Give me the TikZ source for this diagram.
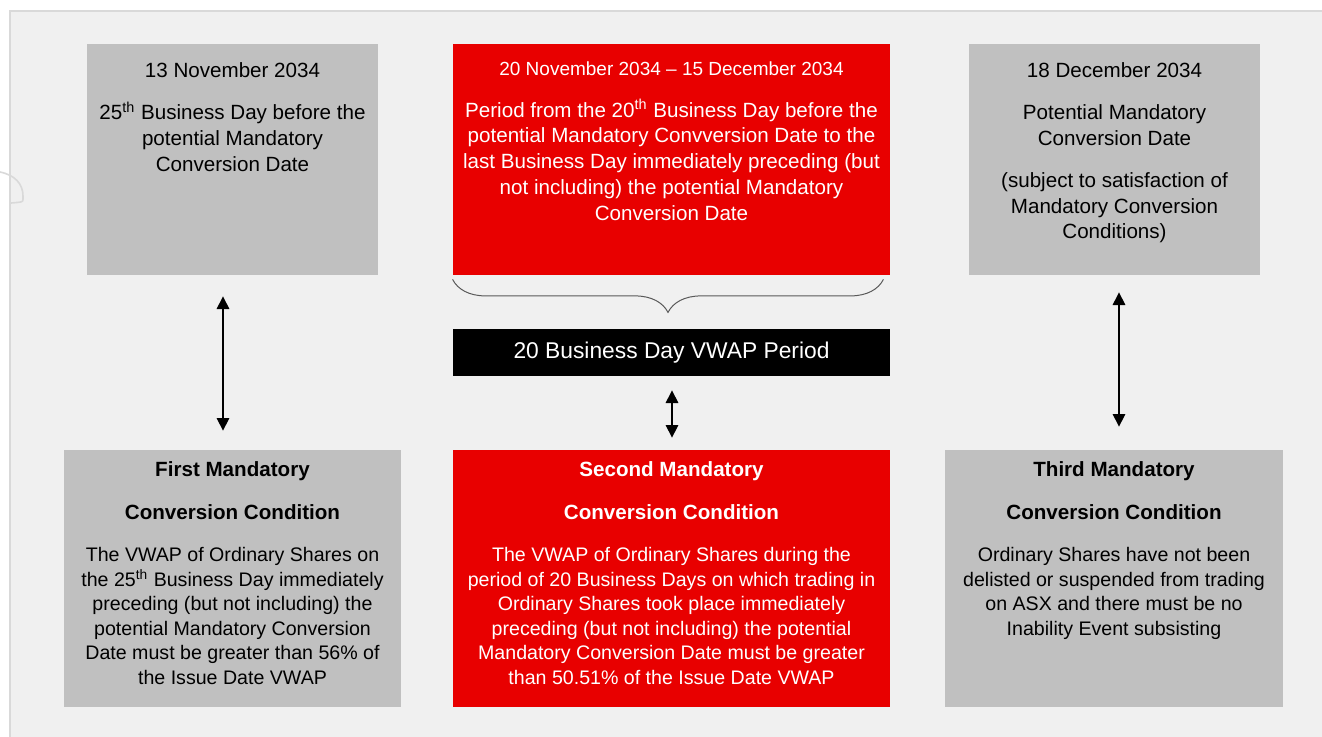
\documentclass[tikz,border=0pt]{standalone}
\usepackage{fontspec}
\setmainfont{Liberation Sans}
\usetikzlibrary{positioning}
\usetikzlibrary{arrows.meta}
\usetikzlibrary{decorations.pathreplacing}

\definecolor{panelgray}{RGB}{240,240,240}
\definecolor{boxgray}{RGB}{192,192,192}
\definecolor{boxred}{RGB}{232,0,0}

\newcommand{\condtitle}[1]{{\fontsize{10.3}{12.25}\selectfont\bfseries #1}}

\tikzset{
    greybox/.style={fill=boxgray, inner sep=0pt},
    redbox/.style={fill=boxred, inner sep=0pt},
    datetext/.style={inner sep=0pt, align=center, font=\fontsize{10.3}{12.9}\selectfont},
    condtext/.style={inner sep=0pt, align=center, font=\fontsize{9.8}{12.25}\selectfont},
    dbl/.style={{Triangle[width=6.3pt,length=6.3pt]}-{Triangle[width=6.3pt,length=6.3pt]}, line width=0.6pt}
}

\begin{document}
\begin{tikzpicture}[x=0.5pt, y=-0.5pt]
        \useasboundingbox (0,0) rectangle (1322,736);
        \fill[white] (0,0) rectangle (1322,736);
        \fill[panelgray] (10,11) rectangle (1330,745);
        \draw[gray!30, line width=1.3pt] (10,745) -- (10,11) -- (1330,11);
        \draw[gray!30, line width=0.8pt] (0,172) .. controls (15,175) and (23,184) .. (23,196) -- (23,199) .. controls (23,202) .. (11,203);

        \node[greybox, minimum width=145.5pt, minimum height=115.5pt] (d1) at (232.5,159.5) {};
        \node[redbox, minimum width=218.5pt, minimum height=115.5pt] (d2) at (671.5,159.5) {};
        \node[greybox, minimum width=145.5pt, minimum height=115.5pt] (d3) at (1114.5,159.5) {};

        \node[datetext, below=9.5pt of d1.north] (d1t) {13 November 2034\\[8pt]
            25\textsuperscript{th} Business Day before the\\
            potential Mandatory\\
            Conversion Date};
        \node[datetext, text=white, below=8.75pt of d2.north] (d2t) {{\fontsize{9.5}{12}\selectfont 20 November 2034 -- 15 December 2034}\\[8pt]
            Period from the 20\textsuperscript{th} Business Day before the\\
            potential Mandatory Convversion Date to the\\
            last Business Day immediately preceding (but\\
            not including) the potential Mandatory\\
            Conversion Date};
        \node[datetext, below=9.5pt of d3.north] (d3t) {18 December 2034\\[8pt]
            Potential Mandatory\\
            Conversion Date\\[8pt]
            (subject to satisfaction of\\
            Mandatory Conversion\\
            Conditions)};

        \draw[decorate, decoration={brace, mirror, amplitude=16.5pt}, gray!70!black, line width=0.5pt]
            ([yshift=-2pt]d2.south west) -- ([xshift=-3.5pt, yshift=-2pt]d2.south east);

        \node[fill=black, inner sep=0pt, minimum width=218.5pt, minimum height=23.5pt, text=white,
            font=\fontsize{11.4}{13}\selectfont] (vw) at (671.5,352.5) {20 Business Day VWAP Period};

        \node[greybox, minimum width=168.5pt, minimum height=128.5pt] (c1) at (232.5,578.5) {};
        \node[redbox, minimum width=218.5pt, minimum height=128.5pt] (c2) at (671.5,578.5) {};
        \node[greybox, minimum width=169pt, minimum height=128.5pt] (c3) at (1114,578.5) {};

        \node[condtext, below=6pt of c1.north] (c1t) {\condtitle{First Mandatory}\\[9pt]
            \condtitle{Conversion Condition}\\[9pt]
            The VWAP of Ordinary Shares on\\
            the 25\textsuperscript{th} Business Day immediately\\
            preceding (but not including) the\\
            potential Mandatory Conversion\\
            Date must be greater than 56\% of\\
            the Issue Date VWAP};
        \node[condtext, text=white, below=6pt of c2.north] (c2t) {\condtitle{Second Mandatory}\\[9pt]
            \condtitle{Conversion Condition}\\[9pt]
            The VWAP of Ordinary Shares during the\\
            period of 20 Business Days on which trading in\\
            Ordinary Shares took place immediately\\
            preceding (but not including) the potential\\
            Mandatory Conversion Date must be greater\\
            than 50.51\% of the Issue Date VWAP};
        \node[condtext, below=6pt of c3.north] (c3t) {\condtitle{Third Mandatory}\\[9pt]
            \condtitle{Conversion Condition}\\[9pt]
            Ordinary Shares have not been\\
            delisted or suspended from trading\\
            on ASX and there must be no\\
            Inability Event subsisting};

        \draw[dbl, shorten <=10.5pt, shorten >=9.5pt] ([xshift=-4.75pt]d1.south) -- ([xshift=-4.75pt]c1.north);
        \draw[dbl, shorten <=7pt, shorten >=6pt] ([xshift=0.25pt]vw.south) -- ([xshift=0.25pt]c2.north);
        \draw[dbl, shorten <=8.5pt, shorten >=11.5pt] ([xshift=2.25pt]d3.south) -- ([xshift=2.5pt]c3.north);
\end{tikzpicture}
\end{document}
